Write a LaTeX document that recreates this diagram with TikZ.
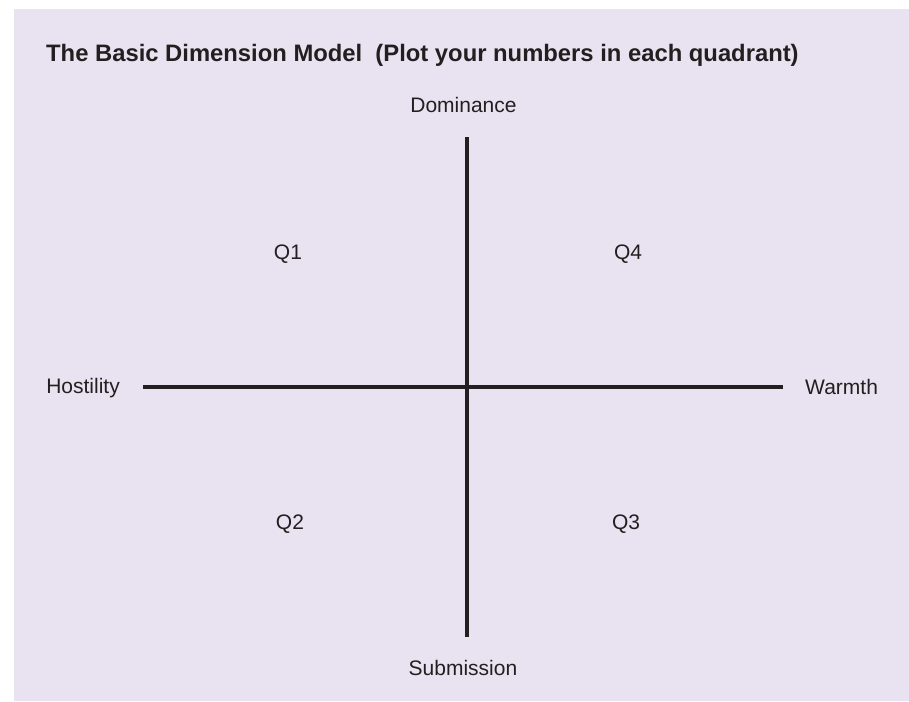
\documentclass[tikz,border=0pt]{standalone}
\usepackage{fontspec}
\setmainfont{Liberation Sans}
\usetikzlibrary{positioning}
\definecolor{bglilac}{RGB}{233,226,240}
\definecolor{inkdark}{RGB}{35,31,32}
\tikzset{
  axislabel/.style={text=inkdark, font=\fontsize{21}{25}\selectfont,
                    inner sep=0pt, anchor=base},
  quadlabel/.style={axislabel},
  titletext/.style={text=inkdark, font=\fontsize{23.8}{28}\selectfont\bfseries,
                    inner sep=0pt, anchor=base west},
  axisline/.style={draw=inkdark, line width=4pt},
}
\begin{document}
\begin{tikzpicture}[x=1pt,y=-1pt]
  \useasboundingbox (0,0) rectangle (909,701);
  \fill[bglilac] (14,9) rectangle (909,701);
  \node[titletext] (title) at (46,62) {The Basic Dimension Model\ \ (Plot your numbers in each quadrant)};
  % axis ends
  \coordinate (top) at (466.5,137);
  \coordinate (bot) at (466.5,637);
  \coordinate (lft) at (143,386.5);
  \coordinate (rgt) at (783,386.5);
  \node[axislabel] (dom) at (463.5,112) {Dominance};
  \node[axislabel] (sub) at (463,675) {Submission};
  \node[axislabel, anchor=base east] (hos) at (120,393) {Hostility};
  \node[axislabel, anchor=base west] (war) at (805,394) {Warmth};
  % quadrants
  \foreach \q/\x/\y in {1/288/259, 4/628/259, 2/290/529, 3/626/529}
    \node[quadlabel] (q\q) at (\x,\y) {Q\q};
  \draw[axisline] (top) -- (bot);
  \draw[axisline] (lft) -- (rgt);
\end{tikzpicture}
\end{document}
